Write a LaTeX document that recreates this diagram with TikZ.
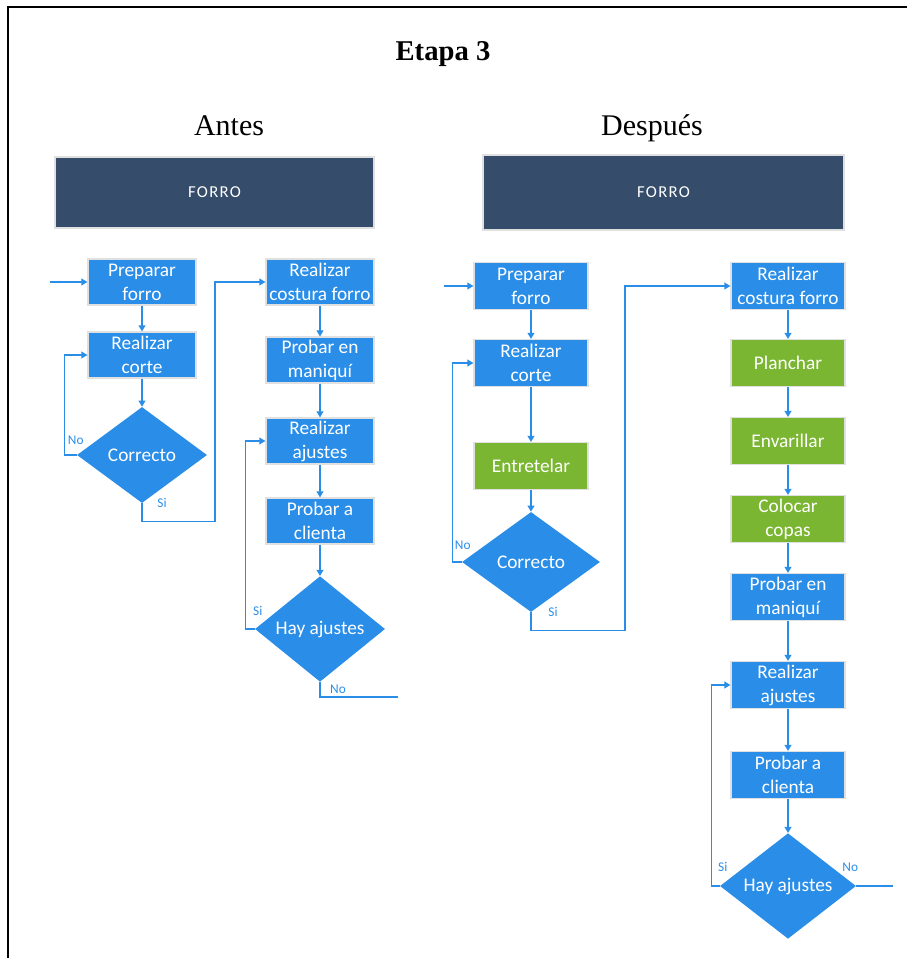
\documentclass[tikz,border=0pt]{standalone}
\usepackage{fontspec}
\setmainfont{Liberation Serif}
\newfontfamily\boxfont{Carlito}
\newfontfamily\hdrfont[LetterSpace=8]{Carlito}
\usepackage{tikz}
\usetikzlibrary{shapes,arrows.meta}
\usetikzlibrary{positioning}
\definecolor{flowblue}{RGB}{42,142,232}
\definecolor{flowgreen}{RGB}{122,182,50}
\definecolor{flowdark}{RGB}{53,76,106}
\tikzset{proc/.style={rectangle, fill=flowblue, draw=black!12, line width=0.8pt,
    text=white, align=center, inner sep=0pt,
    font=\boxfont\fontsize{14.5}{18}\selectfont,
    minimum width=81pt, minimum height=34.5pt},
  wide/.style={minimum width=85.5pt, minimum height=35.25pt},
  extra/.style={fill=flowgreen},
  decide/.style={diamond, fill=flowblue, text=white, inner sep=0pt,
    font=\boxfont\fontsize{14.5}{18}\selectfont},
  hdr/.style={rectangle, fill=flowdark, draw=black!12, line width=0.8pt,
    text=white, font=\hdrfont\fontsize{12.5}{15}\selectfont},
  lbl/.style={text=flowblue, inner sep=0pt, font=\boxfont\fontsize{10}{12}\selectfont},
  flow/.style={color=flowblue, line width=1.1pt}
}

\begin{document}
\begin{tikzpicture}[x=0.75pt, y=-0.75pt, > = {Triangle[length=4.5pt,width=5pt]}, on grid]
  \useasboundingbox (0,0) rectangle (907,958);
  \draw[line width=1.6pt] (8,958) -- (8,7) -- (907,7);

  \node[anchor=base, font=\bfseries\fontsize{21.5}{26}\selectfont] (title)   at (443,60)  {Etapa 3};
  \node[anchor=base, font=\fontsize{22.5}{27}\selectfont]          (antes)   at (229,135) {Antes};
  \node[anchor=base, font=\fontsize{22.5}{27}\selectfont]          (despues) at (652,135) {Después};
  \node[hdr, minimum width=239.25pt, minimum height=53.25pt] (hdr_l) at (214.5,192.5) {FORRO};
  \node[hdr, minimum width=270.75pt, minimum height=56.25pt] (hdr_r) at (663.5,192.5) {FORRO};

  % antes
  \coordinate (in_l) at (50,282);
  \node[proc]   (prep_l) at (142,282)                   {Preparar\\forro};
  \node[proc]   (corte_l) [below=54.75pt of prep_l]    {Realizar\\corte};
  \node[decide, minimum width=97.5pt, minimum height=72pt]
                (corr_l) [below=75pt of corte_l]       {Correcto};
  \node[proc]   (cost_l) at (320,282)                   {Realizar\\costura forro};
  \node[proc]   (mani_l) [below=58.5pt of cost_l]      {Probar en\\maniquí};
  \node[proc]   (ajus_l) [below=60.75pt of mani_l]     {Realizar\\ajustes};
  \node[proc]   (clie_l) [below=60pt of ajus_l]        {Probar a\\clienta};
  \node[decide, minimum width=97.5pt, minimum height=72pt]
                (hay_l)  [below=81pt of clie_l]        {Hay ajustes};
  \coordinate (out_l) at (398,697);

  \path[flow, ->] (in_l)    edge (prep_l)
                  (prep_l)  edge (corte_l)
                  (corte_l) edge (corr_l)
                  (cost_l)  edge (mani_l)
                  (mani_l)  edge (ajus_l)
                  (ajus_l)  edge (clie_l)
                  (clie_l)  edge (hay_l);
  \draw[flow, ->] (corr_l.west) -- ++(-12,0) |- (corte_l.west);
  \draw[flow, ->] (corr_l.south) -- ++(0,18) -- ++(73,0) |- (cost_l.west);
  \draw[flow, ->] (hay_l.west) -- ++(-9,0) |- (ajus_l.west);
  \draw[flow] (hay_l.south) |- (out_l);
  \node[lbl] (no_l1) at ([shift={(-1,-15)}]corr_l.west) {No};
  \node[lbl] (si_l1) at ([shift={(20,0)}]corr_l.south)  {Si};
  \node[lbl] (si_l2) at ([shift={(3,-18)}]hay_l.west)   {Si};
  \node[lbl] (no_l2) at ([shift={(18,7)}]hay_l.south)   {No};

  % despues
  \coordinate (in_r) at (444,286);
  \node[proc, wide]        (prep_r)  at (531,286)               {Preparar\\forro};
  \node[proc, wide]        (corte_r) [below=57.75pt of prep_r]  {Realizar\\corte};
  \node[proc, wide, extra] (entre_r) [below=77.25pt of corte_r] {Entretelar};
  \node[decide, minimum width=103.5pt, minimum height=75pt]
                           (corr_r)  [below=72pt of entre_r]    {Correcto};
  \node[proc, wide]        (cost_r)  at (788,286)               {Realizar\\costura forro};
  \node[proc, wide, extra] (plan_r)  [below=57.75pt of cost_r]  {Planchar};
  \node[proc, wide, extra] (enva_r)  [below=58.5pt of plan_r]   {Envarillar};
  \node[proc, wide, extra] (copa_r)  [below=58.5pt of enva_r]   {Colocar\\copas};
  \node[proc, wide]        (mani_r)  [below=58.5pt of copa_r]   {Probar en\\maniquí};
  \node[proc, wide]        (ajus_r)  [below=66pt of mani_r]     {Realizar\\ajustes};
  \node[proc, wide]        (clie_r)  [below=67.5pt of ajus_r]   {Probar a\\clienta};
  \node[decide, minimum width=102pt, minimum height=78pt]
                           (hay_r)   [below=83.25pt of clie_r]  {Hay ajustes};
  \coordinate (out_r) at (893,886);

  \path[flow, ->] (in_r)    edge (prep_r)
                  (prep_r)  edge (corte_r)
                  (corte_r) edge (entre_r)
                  (entre_r) edge (corr_r)
                  (cost_r)  edge (plan_r)
                  (plan_r)  edge (enva_r)
                  (enva_r)  edge (copa_r)
                  (copa_r)  edge (mani_r)
                  (mani_r)  edge (ajus_r)
                  (ajus_r)  edge (clie_r)
                  (clie_r)  edge (hay_r);
  \draw[flow, ->] (corr_r.west) -- ++(-9,0) |- (corte_r.west);
  \draw[flow, ->] (corr_r.south) -- ++(0,18) -- ++(94,0) |- (cost_r.west);
  \draw[flow, ->] (hay_r.west) -- ++(-8,0) |- (ajus_r.west);
  \draw[flow] (hay_r.east) -- (out_r);
  \node[lbl] (no_r1) at ([shift={(1,-17)}]corr_r.west)  {No};
  \node[lbl] (si_r1) at ([shift={(22,0)}]corr_r.south)  {Si};
  \node[lbl] (si_r2) at ([shift={(3,-19)}]hay_r.west)   {Si};
  \node[lbl] (no_r2) at ([shift={(-6,-19)}]hay_r.east)  {No};
\end{tikzpicture}
\end{document}
